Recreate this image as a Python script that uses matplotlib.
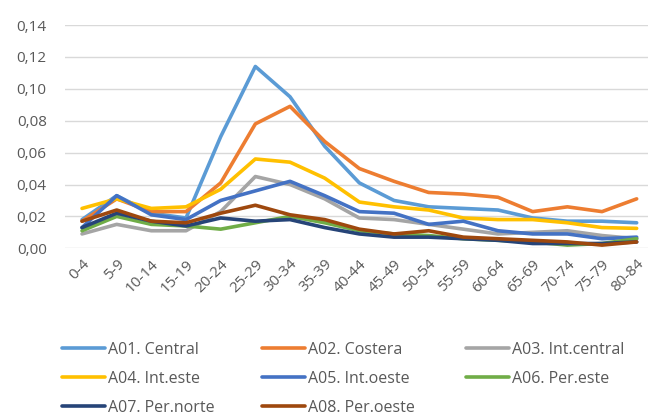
import matplotlib
matplotlib.use("Agg")
import matplotlib.pyplot as plt
from matplotlib.lines import Line2D
from matplotlib.ticker import FuncFormatter, MultipleLocator

categories = ['0-4', '5-9', '10-14', '15-19', '20-24', '25-29', '30-34', '35-39',
              '40-44', '45-49', '50-54', '55-59', '60-64', '65-69', '70-74', '75-79', '80-84']

a01_central = [0.018, 0.033, 0.022, 0.019, 0.070, 0.114, 0.095, 0.064, 0.041, 0.030,
               0.026, 0.025, 0.024, 0.019, 0.017, 0.017, 0.016]
a02_costera = [0.017, 0.031, 0.023, 0.023, 0.041, 0.078, 0.089, 0.067, 0.050, 0.042,
               0.035, 0.034, 0.032, 0.023, 0.026, 0.023, 0.031]
a03_intcentral = [0.009, 0.015, 0.011, 0.011, 0.023, 0.045, 0.040, 0.031, 0.019, 0.018,
                  0.015, 0.012, 0.009, 0.010, 0.011, 0.008, 0.006]
a04_inteste = [0.025, 0.031, 0.025, 0.026, 0.037, 0.056, 0.054, 0.044, 0.029, 0.026,
               0.024, 0.019, 0.018, 0.018, 0.016, 0.013, 0.0125]
a05_intoeste = [0.013, 0.033, 0.021, 0.018, 0.030, 0.036, 0.042, 0.033, 0.023, 0.022,
                0.015, 0.017, 0.011, 0.009, 0.009, 0.006, 0.007]
a06_pereste = [0.011, 0.020, 0.015, 0.014, 0.012, 0.016, 0.020, 0.016, 0.011, 0.009,
               0.008, 0.006, 0.005, 0.004, 0.002, 0.003, 0.006]
a07_pernorte = [0.013, 0.022, 0.017, 0.014, 0.019, 0.017, 0.018, 0.013, 0.009, 0.007,
                0.007, 0.006, 0.005, 0.003, 0.003, 0.003, 0.004]
a08_peroeste = [0.017, 0.024, 0.017, 0.016, 0.022, 0.027, 0.021, 0.018, 0.012, 0.009,
                0.011, 0.007, 0.006, 0.005, 0.004, 0.002, 0.004]

series_names = ['A01. Central', 'A02. Costera', 'A03. Int.central', 'A04. Int.este',
                'A05. Int.oeste', 'A06. Per.este', 'A07. Per.norte', 'A08. Per.oeste']
series_values = [a01_central, a02_costera, a03_intcentral, a04_inteste,
                 a05_intoeste, a06_pereste, a07_pernorte, a08_peroeste]
colors = ['#5B9BD5', '#ED7D31', '#A5A5A5', '#FFC000',
          '#4472C4', '#70AD47', '#264478', '#9E480E']

plt.rcParams['font.family'] = ['Open Sans', 'DejaVu Sans']
text_color = '#595959'

fig = plt.figure(figsize=(6.48, 4.15), dpi=100)
ax = fig.add_axes([64.7 / 648, (415 - 248.3) / 415, (654 - 64.7) / 648, (248.3 - 25) / 415])

x = list(range(len(categories)))
handles = []
for name, vals, c in zip(series_names, series_values, colors):
    ax.plot(x, vals, color=c, lw=2.6, solid_joinstyle='round', solid_capstyle='round',
            label=name, zorder=3)
    handles.append(Line2D([0], [0], color=c, lw=2.6, solid_capstyle='round'))

ax.set_xlim(-0.5, len(categories) - 0.5)
ax.set_ylim(0, 0.14)
ax.yaxis.set_major_locator(MultipleLocator(0.02))
ax.yaxis.set_major_formatter(FuncFormatter(lambda v, p: f"{v:.2f}".replace('.', ',')))
ax.grid(axis='y', color='#D9D9D9', lw=1.0, zorder=0)
ax.set_axisbelow(True)
for s in ax.spines.values():
    s.set_visible(False)
ax.tick_params(axis='both', length=0, colors=text_color, labelsize=11)
ax.tick_params(axis='y', pad=13)
ax.set_xticks(x)
ax.set_xticklabels(categories, rotation=45, ha='right', rotation_mode='anchor')
ax.tick_params(axis='x', pad=6)

# legend in 3 columns, placed manually
cols = [[0, 3, 6], [1, 4, 7], [2, 5]]
col_x = [62 / 648, 262 / 648, 466 / 648]
for cx, idxs in zip(col_x, cols):
    leg = fig.legend([handles[i] for i in idxs], [series_names[i] for i in idxs],
                     loc='upper left', bbox_to_anchor=(cx, (415 - 342) / 415),
                     frameon=False, fontsize=11.5, handlelength=2.7, handletextpad=0.2,
                     labelspacing=0.8, borderaxespad=0, borderpad=0)
    for t in leg.get_texts():
        t.set_color(text_color)

fig.savefig('out.png', dpi=100)
